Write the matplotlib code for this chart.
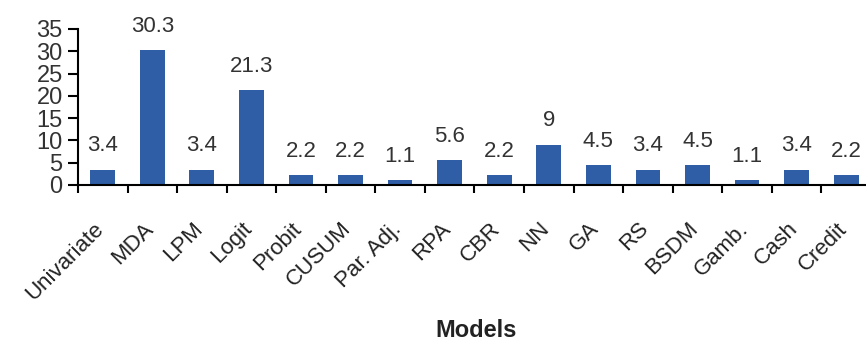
import numpy as np
import matplotlib.pyplot as plt
from matplotlib.transforms import ScaledTranslation

models = ["Univariate", "MDA", "LPM", "Logit", "Probit", "CUSUM", "Par. Adj.", "RPA",
          "CBR", "NN", "GA", "RS", "BSDM", "Gamb.", "Cash", "Credit"]
values = [3.4, 30.3, 3.4, 21.3, 2.2, 2.2, 1.1, 5.6, 2.2, 9, 4.5, 3.4, 4.5, 1.1, 3.4, 2.2]
labels = ["3.4", "30.3", "3.4", "21.3", "2.2", "2.2", "1.1", "5.6",
          "2.2", "9", "4.5", "3.4", "4.5", "1.1", "3.4", "2.2"]

plt.rcParams['font.family'] = ['Liberation Sans', 'DejaVu Sans']

fig = plt.figure(figsize=(8.66, 3.45), dpi=100)
ax = fig.add_axes([0.09, 0.464, 0.91, 0.452])

x = np.arange(len(models))
ax.bar(x, values, width=0.5, color="#2f5ea6")

# value labels sit well above the bars
for xi, v, lab in zip(x, values, labels):
    ax.text(xi, v + 3.0, lab, ha="center", va="bottom", fontsize=16, color="#333333")

ax.set_xlim(-0.5, 15.4)
ax.set_ylim(0, 35)
ax.set_yticks(range(0, 36, 5))
ax.tick_params(axis="y", labelsize=17, labelcolor="#333333", length=7, width=1.5, pad=4)

ax.set_xticks(x)
ax.set_xticklabels(models, rotation=45, ha="right", rotation_mode="anchor", fontsize=16, color="#222222")
ax.tick_params(axis="x", length=0, pad=24)
shift = ScaledTranslation(-7 / 72, 0, fig.dpi_scale_trans)
for t in ax.get_xticklabels():
    t.set_transform(t.get_transform() + shift)
ax.set_xticks(np.arange(-0.5, 15.5, 1), minor=True)
ax.tick_params(axis="x", which="minor", length=6, width=1.5, direction="out")

ax.spines["top"].set_visible(False)
ax.spines["right"].set_visible(False)
ax.spines["left"].set_linewidth(1.5)
ax.spines["bottom"].set_linewidth(1.5)

fig.text(0.55, 0.01, "Models", ha="center", va="bottom", fontsize=17, fontweight="bold", color="#222222")

plt.savefig("out.png", dpi=100)
